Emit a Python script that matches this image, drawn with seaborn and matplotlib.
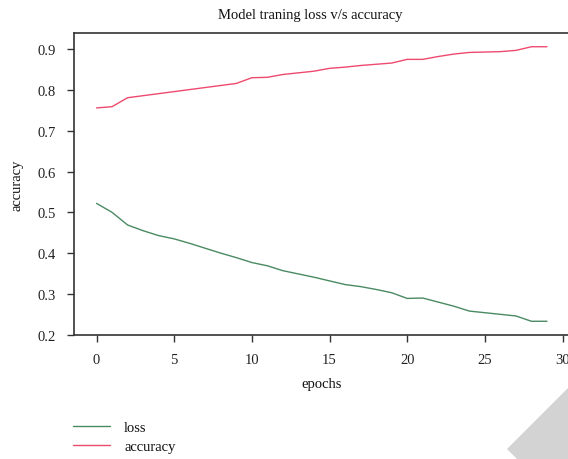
import numpy as np
import pandas as pd
import matplotlib
matplotlib.use("Agg")
import matplotlib.pyplot as plt
import seaborn as sns
from matplotlib.patches import Polygon

epochs = list(range(30))
loss = [0.522, 0.500, 0.469, 0.455, 0.443, 0.435, 0.424, 0.412, 0.400, 0.389,
        0.377, 0.369, 0.357, 0.349, 0.341, 0.332, 0.323, 0.318, 0.311, 0.303,
        0.289, 0.290, 0.280, 0.270, 0.258, 0.254, 0.250, 0.246, 0.233, 0.233]
accuracy = [0.756, 0.759, 0.781, 0.786, 0.791, 0.796, 0.801, 0.806, 0.811, 0.816,
            0.830, 0.831, 0.838, 0.842, 0.846, 0.853, 0.856, 0.860, 0.863, 0.866,
            0.875, 0.875, 0.882, 0.888, 0.892, 0.893, 0.894, 0.897, 0.906, 0.906]
series_names = ["loss", "accuracy"]
colors = ["#4a8a62", "#ee4a6e"]
title = "Model traning loss v/s accuracy"
xlabel = "epochs"
ylabel = "accuracy"

df = pd.DataFrame({
    "epoch": epochs * 2,
    "value": loss + accuracy,
    "metric": [series_names[0]] * len(epochs) + [series_names[1]] * len(epochs),
})

sns.set_style("ticks")
plt.rcParams["font.family"] = ["Liberation Serif", "DejaVu Serif"]
plt.rcParams["axes.edgecolor"] = "#333333"
plt.rcParams["xtick.color"] = "#333333"
plt.rcParams["ytick.color"] = "#333333"
plt.rcParams["xtick.labelcolor"] = "#222222"
plt.rcParams["ytick.labelcolor"] = "#222222"

fig = plt.figure(figsize=(5.68, 4.6), dpi=100)
ax = fig.add_axes([74 / 568, 1 - 336 / 460, 495.5 / 568, (336 - 34) / 460])

sns.lineplot(data=df, x="epoch", y="value", hue="metric", hue_order=series_names,
             palette=colors, linewidth=1.0, ax=ax)

ax.set_title(title, fontsize=10.5, color="#111111", x=0.477, pad=11)
ax.set_xlabel(xlabel, fontsize=10.5, color="#111111", labelpad=8)
ax.set_ylabel(ylabel, fontsize=10.5, color="#111111", labelpad=10)
ax.set_xticks([0, 5, 10, 15, 20, 25, 30])
ax.set_yticks([0.2, 0.3, 0.4, 0.5, 0.6, 0.7, 0.8, 0.9])
ax.tick_params(labelsize=10.5, length=5, width=1.0, pad=8)
for s in ax.spines.values():
    s.set_linewidth(1.2)

leg = ax.legend(loc="upper left", bbox_to_anchor=(60 / 568, 1 - 409 / 460),
                bbox_transform=fig.transFigure, frameon=False, fontsize=10.5,
                handlelength=2.5, handletextpad=1.0, labelspacing=0.4)
for t in leg.get_texts():
    t.set_color("#111111")

px = np.array([[507, 450], [568, 389], [568, 460], [517, 460]], dtype=float)
pts = np.column_stack([px[:, 0] / 568, 1 - px[:, 1] / 460])
fig.patches.append(Polygon(pts, closed=True, transform=fig.transFigure,
                           facecolor="#d3d3d3", edgecolor="none", zorder=0))

fig.savefig("out.png", dpi=100)
